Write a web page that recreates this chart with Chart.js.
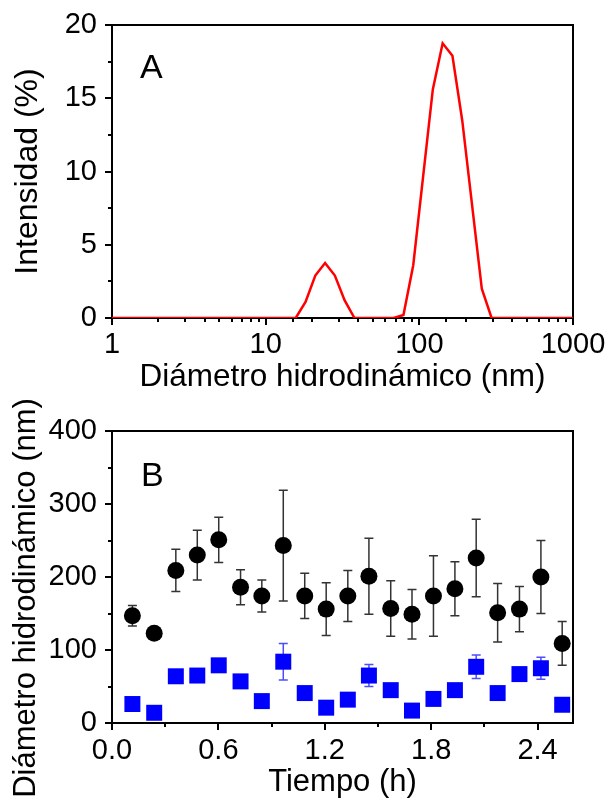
<!DOCTYPE html>
<html>
<head>
<meta charset="utf-8">
<script src="https://cdn.jsdelivr.net/npm/chart.js@4.4.1/dist/chart.umd.min.js"></script>
<style>
  html, body { margin: 0; padding: 0; background: #fff; }
  #wrapA { position: absolute; left: 0; top: 0; width: 611px; height: 400px; }
  #wrapB { position: absolute; left: 0; top: 400px; width: 611px; height: 401px; }
</style>
</head>
<body>
<div id="wrapA"><canvas id="chartA"></canvas></div>
<div id="wrapB"><canvas id="chartB"></canvas></div>
<script>
// Panel A - intensity size distribution
const sizeNm = [1, 15.69, 18.17, 21.04, 24.36, 28.21, 32.67, 37.84, 68.06, 78.82, 91.28, 122.4, 141.8, 164.2, 190.1, 255.0, 295.3, 1000];
const intensity = [0, 0, 1.1, 2.9, 3.75, 2.9, 1.2, 0, 0, 0.2, 3.6, 15.6, 18.75, 17.9, 13.5, 2.0, 0, 0];
const sizeTickLabels = [1, 10, 100, 1000];

// Panel B - hydrodynamic diameter vs time
const timeH = [0.115, 0.238, 0.36, 0.481, 0.602, 0.725, 0.845, 0.966, 1.087, 1.208, 1.33, 1.449, 1.572, 1.692, 1.813, 1.934, 2.054, 2.175, 2.298, 2.419, 2.539];
const diamBlack = [147, 123, 209, 230, 251, 186, 174, 243, 174, 156, 174, 201, 157, 149, 174, 184, 226, 151, 156, 200, 109];
const errBlack = [14, 0, 29, 34, 31, 24, 22, 76, 31, 36, 35, 52, 38, 34, 55, 37, 53, 40, 31, 50, 30];
const diamBlue = [26, 14, 64, 65, 79, 57, 30, 84, 41, 21, 32, 65, 45, 17, 33, 45, 77, 41, 67, 75, 25];
const errBlue = [0, 0, 0, 0, 0, 0, 0, 25, 0, 0, 0, 15, 0, 0, 0, 0, 16, 0, 0, 15, 0];

const FONT = "'Liberation Sans', Arial, sans-serif";
Chart.defaults.font.family = FONT;
Chart.defaults.color = "#000";

function isPow10(v) {
  const l = Math.log10(v);
  return Math.abs(l - Math.round(l)) < 1e-9;
}
function isMult(v, step) {
  const k = v / step;
  return Math.abs(k - Math.round(k)) < 1e-6;
}

// invisible tick space: pushes labels off the axis without adding layout padding
function hiddenTicks(len) {
  return { display: true, drawOnChartArea: false, drawTicks: true, tickLength: len, tickColor: 'rgba(0,0,0,0)' };
}

// frame + outward tick marks (major long, minor short) + panel letter
function axisFrame(xMajor, yMajor, letter, lx, ly, yTitle) {
  return {
    id: 'axisFrame',
    beforeDatasetsDraw(chart) {
      const { ctx, chartArea: a, scales } = chart;
      ctx.save();
      ctx.strokeStyle = '#000';
      ctx.lineWidth = 2;
      ctx.strokeRect(a.left, a.top, a.right - a.left, a.bottom - a.top);
      scales.x.ticks.forEach(t => {
        const px = Math.round(scales.x.getPixelForValue(t.value));
        const len = xMajor(t.value) ? 7 : 4;
        ctx.beginPath();
        ctx.moveTo(px, a.bottom);
        ctx.lineTo(px, a.bottom + len);
        ctx.stroke();
      });
      scales.y.ticks.forEach(t => {
        const py = Math.round(scales.y.getPixelForValue(t.value));
        const len = yMajor(t.value) ? 7 : 4;
        ctx.beginPath();
        ctx.moveTo(a.left, py);
        ctx.lineTo(a.left - len, py);
        ctx.stroke();
      });
      ctx.restore();
    },
    afterDraw(chart) {
      const ctx = chart.ctx;
      ctx.save();
      ctx.fillStyle = '#000';
      ctx.font = "34px " + FONT;
      ctx.textBaseline = 'alphabetic';
      ctx.fillText(letter, lx, ly);
      if (yTitle) {
        // long y title sits lower than the axis centre, drawn by hand
        ctx.translate(yTitle.x, yTitle.y);
        ctx.rotate(-Math.PI / 2);
        ctx.textAlign = 'center';
        ctx.textBaseline = 'middle';
        ctx.font = "31px " + FONT;
        ctx.fillText(yTitle.text, 0, 0);
      }
      ctx.restore();
    }
  };
}

// vertical error bars with caps, drawn under the markers
const errorBars = {
  id: 'errorBars',
  beforeDatasetsDraw(chart) {
    const { ctx, scales } = chart;
    ctx.save();
    chart.data.datasets.forEach(ds => {
      if (!ds.errors) return;
      ctx.strokeStyle = ds.errorColor;
      ctx.lineWidth = 1.5;
      ds.data.forEach((p, i) => {
        const e = ds.errors[i];
        if (!e) return;
        const x = scales.x.getPixelForValue(p.x);
        const yt = scales.y.getPixelForValue(p.y + e);
        const yb = scales.y.getPixelForValue(p.y - e);
        ctx.beginPath();
        ctx.moveTo(x, yt); ctx.lineTo(x, yb);
        ctx.moveTo(x - 4.5, yt); ctx.lineTo(x + 4.5, yt);
        ctx.moveTo(x - 4.5, yb); ctx.lineTo(x + 4.5, yb);
        ctx.stroke();
      });
    });
    ctx.restore();
  }
};

const tickFont = { size: 29 };
const titleFont = { size: 31 };

// Chart A
new Chart(document.getElementById('chartA'), {
  type: 'line',
  data: {
    datasets: [{
      data: sizeNm.map((s, i) => ({ x: s, y: intensity[i] })),
      borderColor: '#ff0000',
      borderWidth: 2.5,
      pointRadius: 0,
      tension: 0,
      fill: false
    }]
  },
  options: {
    responsive: true,
    maintainAspectRatio: false,
    animation: false,
    layout: { padding: { top: 25, right: 38, left: 0, bottom: 0 } },
    plugins: { legend: { display: false }, tooltip: { enabled: false } },
    scales: {
      x: {
        type: 'logarithmic',
        min: 1,
        max: 1000,
        grid: hiddenTicks(10),
        border: { display: false },
        ticks: {
          autoSkip: false,
          maxRotation: 0,
          padding: 0,
          font: tickFont,
          callback: v => sizeTickLabels.some(t => Math.abs(t - v) < 1e-6) ? String(v) : ''
        },
        title: { display: true, text: 'Diámetro hidrodinámico (nm)', font: { size: 31.5 }, padding: { top: 0, bottom: 4 } },
        afterFit: s => { s.height = 82; }
      },
      y: {
        min: 0,
        max: 20,
        grid: hiddenTicks(15),
        border: { display: false },
        ticks: {
          stepSize: 2.5,
          autoSkip: false,
          padding: 0,
          font: tickFont,
          callback: v => isMult(v, 5) ? String(v) : ''
        },
        title: { display: true, text: 'Intensidad (%)', font: { size: 32 }, padding: { top: 9, bottom: 0 } },
        afterFit: s => { s.width = 112; }
      }
    }
  },
  plugins: [axisFrame(isPow10, v => isMult(v, 5), 'A', 140, 78, null)]
});

// Chart B
new Chart(document.getElementById('chartB'), {
  type: 'scatter',
  data: {
    datasets: [{
      data: timeH.map((t, i) => ({ x: t, y: diamBlack[i] })),
      errors: errBlack,
      errorColor: '#333',
      pointStyle: 'circle',
      pointRadius: 8.5,
      pointBackgroundColor: '#000',
      pointBorderWidth: 0
    }, {
      data: timeH.map((t, i) => ({ x: t, y: diamBlue[i] })),
      errors: errBlue,
      errorColor: '#4d4dff',
      pointStyle: 'rect',
      pointRadius: 11.3,
      pointBackgroundColor: '#0000ff',
      pointBorderWidth: 0
    }]
  },
  options: {
    responsive: true,
    maintainAspectRatio: false,
    animation: false,
    layout: { padding: { top: 31, right: 38, left: 0, bottom: 0 } },
    plugins: { legend: { display: false }, tooltip: { enabled: false } },
    scales: {
      x: {
        type: 'linear',
        min: 0,
        max: 2.6,
        grid: hiddenTicks(11),
        border: { display: false },
        ticks: {
          stepSize: 0.3,
          includeBounds: false,
          autoSkip: false,
          maxRotation: 0,
          padding: 0,
          font: tickFont,
          callback: v => isMult(v, 0.6) ? v.toFixed(1) : ''
        },
        title: { display: true, text: 'Tiempo (h)', font: titleFont, padding: { top: 0, bottom: 0 } },
        afterFit: s => { s.height = 78; }
      },
      y: {
        min: 0,
        max: 400,
        grid: hiddenTicks(15),
        border: { display: false },
        ticks: {
          stepSize: 50,
          autoSkip: false,
          padding: 0,
          font: tickFont,
          callback: v => isMult(v, 100) ? String(v) : ''
        },
        afterFit: s => { s.width = 112; }
      }
    }
  },
  plugins: [errorBars, axisFrame(v => isMult(v, 0.6), v => isMult(v, 100), 'B', 141, 86,
    { text: 'Diámetro hidrodinámico (nm)', x: 26, y: 198 })]
});
</script>
</body>
</html>
